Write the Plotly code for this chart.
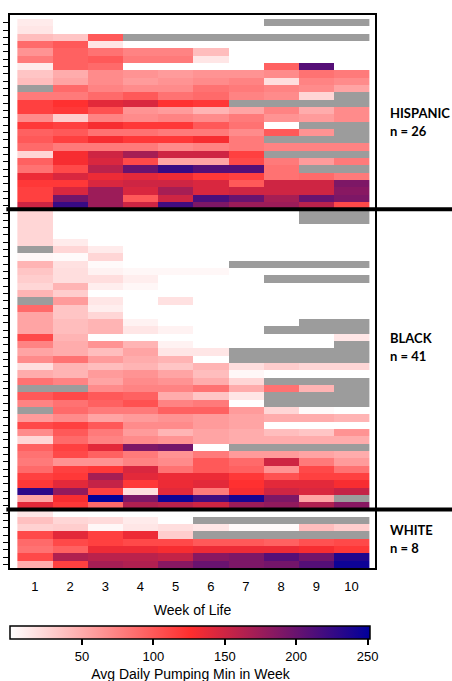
import numpy as np
import plotly.graph_objects as go

N = None
weeks = list(range(1, 11))

hispanic = [
    [12, 0, 0, 0, 0, 0, 0, N, N, N],
    [15, 0, 0, 0, 0, 0, 0, 0, 0, 0],
    [40, 35, 100, N, N, N, N, N, N, N],
    [90, 100, 15, 0, 0, 0, 0, 0, 0, 0],
    [65, 95, 85, 75, 75, 40, 0, 0, 0, 0],
    [80, 95, 100, 80, 80, 15, 0, 0, 0, 0],
    [12, 95, 90, 0, 0, 0, 0, 95, 210, 0],
    [35, 50, 70, 65, 60, 65, 65, 70, 85, 80],
    [40, 55, 70, 60, 65, 70, 75, 20, 75, 70],
    [N, 90, 75, 70, 70, 85, 80, 75, 70, 55],
    [80, 80, 90, 100, 85, 90, 75, 70, 25, N],
    [115, 125, 140, 145, 125, 120, N, N, N, N],
    [115, 120, 105, 65, 60, 45, 55, 75, 50, 70],
    [70, 30, 75, 70, 75, 70, 80, 65, 60, 70],
    [120, 115, 130, 120, 120, 100, 85, 0, N, N],
    [95, 100, 85, 85, 80, 80, 70, 100, 65, N],
    [100, 115, 130, 120, 120, 130, 80, N, N, N],
    [90, 80, 80, 80, 70, 75, 80, 75, 75, 75],
    [25, 130, 150, 170, 150, 150, 115, N, N, N],
    [95, 130, 145, 110, 55, 55, 110, 80, 60, 80],
    [85, 110, 160, 200, 225, 210, 210, 85, N, N],
    [135, 145, 135, 140, 135, 120, 115, 85, 90, 80],
    [120, 120, 145, 150, 150, 145, 100, 150, 150, 190],
    [115, 145, 175, 145, 170, 145, 150, 150, 150, 185],
    [115, 195, 175, 100, 150, 215, 200, 170, 200, 190],
    [150, 225, 175, 150, 220, 190, 175, 175, 160, 110],
]

black = [
    [25, 0, 0, 0, 0, 0, 0, 0, N, N],
    [25, 0, 0, 0, 0, 0, 0, 0, N, N],
    [25, 0, 0, 0, 0, 0, 0, 0, 0, 0],
    [25, 0, 0, 0, 0, 0, 0, 0, 0, 0],
    [25, 12, 0, 0, 0, 0, 0, 0, 0, 0],
    [N, 25, 12, 0, 0, 0, 0, 0, 0, 0],
    [5, 3, 25, 0, 0, 0, 0, 0, 0, 0],
    [45, 18, 3, 0, 0, 0, N, N, N, N],
    [35, 20, 8, 5, 5, 5, 0, 0, 0, 0],
    [30, 20, 20, 10, 0, 0, 0, N, N, N],
    [25, 45, 10, 5, 0, 0, 0, 0, 0, 0],
    [45, 30, 0, 0, 0, 0, 0, 0, 0, 0],
    [N, 60, 15, 0, 18, 0, 0, 0, 0, 0],
    [90, 35, 10, 0, 0, 0, 0, 0, 0, 0],
    [55, 35, 25, 0, 0, 0, 0, 0, 0, 0],
    [55, 40, 45, 8, 0, 0, 0, 0, N, N],
    [55, 40, 45, 15, 8, 0, 0, N, N, N],
    [110, 45, 0, 0, 0, 0, 0, 0, 0, 15],
    [75, 50, 65, 45, 8, 0, 0, 0, 0, N],
    [55, 50, 40, 55, 15, 15, N, N, N, N],
    [70, 85, 60, 50, 45, 0, N, N, N, N],
    [20, 45, 40, 45, 35, 45, 20, 30, 25, 25],
    [50, 45, 60, 65, 55, 40, 5, 0, 0, 0],
    [85, 75, 55, 70, 65, 50, 25, N, N, N],
    [N, N, 70, 75, 75, 85, 50, 85, 45, N],
    [100, 110, 100, 95, 50, 35, 15, N, N, N],
    [75, 85, 95, 105, 75, 80, 0, N, N, N],
    [N, 90, 80, 80, 95, 95, 60, 25, 3, 0],
    [60, 70, 55, 60, 65, 60, 55, 50, 50, 45],
    [110, 115, 100, 70, 70, 60, 55, 0, 0, 0],
    [70, 100, 80, 60, 45, 55, 50, 40, 35, 65],
    [25, 90, 75, 70, 65, 55, 50, 50, 50, 50],
    [95, 115, 140, 190, 195, 0, N, N, N, N],
    [85, 110, 95, 80, 65, 80, 60, 60, 55, 50],
    [80, 65, 65, 75, 70, 100, 90, 150, 80, 60],
    [90, 115, 120, 145, 85, 100, 95, 65, 110, 85],
    [115, 120, 170, 140, 135, 135, 120, 105, 115, 115],
    [120, 140, 155, 120, 135, 140, 125, 140, 140, 130],
    [230, 180, 115, 20, 140, 80, 130, 150, 145, 155],
    [55, 130, 250, 190, 245, 220, 240, 190, 55, N],
    [140, 120, 90, 165, 160, 150, 175, 180, 165, 185],
]

white = [
    [15, 0, 0, 0, 0, 0, 0, 0, 0, 0],
    [38, 25, 22, 12, 0, N, N, N, N, N],
    [28, 30, 5, 15, 20, 15, 3, 3, 40, 30],
    [110, 140, 115, 135, 30, N, N, N, N, N],
    [90, 110, 115, 110, 110, 100, 100, 95, 105, 110],
    [85, 95, 135, 135, 130, 135, 135, 135, 130, 120],
    [110, 165, 160, 160, 155, 185, 190, 210, 195, 235],
    [50, 115, 170, 165, 185, 200, 190, 195, 210, 245],
]

groups = ["HISPANIC", "BLACK", "WHITE"]
group_n = [26, 41, 8]
colorbar_ticks = [50, 100, 150, 200, 250]

rows = hispanic + black + white
z = np.array([[np.nan if v is None else v for v in r] for r in rows], dtype=float)
row_idx = list(range(len(rows)))
zgray = np.where(np.isnan(z), 1.0, np.nan)

fig = go.Figure()
fig.add_trace(go.Heatmap(
    z=zgray, x=weeks, y=row_idx,
    colorscale=[[0, "#9c9c9c"], [1, "#9c9c9c"]],
    showscale=False, hoverinfo="skip",
))
fig.add_trace(go.Heatmap(
    z=z, x=weeks, y=row_idx, zmin=0, zmax=252,
    colorscale=[[0, "#ffffff"], [0.5, "#ff2e2e"], [1, "#00009c"]],
    colorbar=dict(
        orientation="h", x=0.4945, xanchor="center", y=-0.1057, yanchor="top",
        lenmode="pixels", len=360, thickness=13, xpad=0, ypad=0,
        outlinecolor="black", outlinewidth=1.5,
        ticks="outside", ticklen=6, tickwidth=1.5, tickcolor="black",
        tickvals=colorbar_ticks, tickfont=dict(size=13, color="black", family="Liberation Sans"),
        title=dict(text="Avg Daily Pumping Min in Week", side="bottom",
                   font=dict(size=14, color="black", family="Liberation Sans")),
    ),
))

# group separators
bounds = np.cumsum(group_n)[:-1]
for b in bounds:
    fig.add_shape(type="line", xref="paper", yref="y", x0=-0.01, x1=1.25,
                  y0=b - 0.5, y1=b - 0.5, line=dict(color="black", width=4))

# group labels
label_y_top = [113, 338, 530]
H_plot = 553.5
for g, n, ypx in zip(groups, group_n, label_y_top):
    fig.add_annotation(xref="paper", yref="paper", x=1.0356, xanchor="left",
                       y=(568.5 - ypx) / H_plot, yanchor="middle", showarrow=False,
                       text=f"<b>{g}</b>", font=dict(family="Lato", size=13, color="black"))
    fig.add_annotation(xref="paper", yref="paper", x=1.0356, xanchor="left",
                       y=(568.5 - ypx - 18) / H_plot, yanchor="middle", showarrow=False,
                       text=f"<b>n = {n}</b>", font=dict(family="Lato", size=13, color="black"))

fig.update_xaxes(
    range=[0.29, 10.67], tickvals=weeks, ticktext=[str(w) for w in weeks],
    ticks="outside", ticklen=6, tickcolor="rgba(0,0,0,0)",
    showline=True, mirror=True, linecolor="black", linewidth=1.5,
    showgrid=False, zeroline=False,
    tickfont=dict(size=13, color="black", family="Liberation Sans"),
    title=dict(text="Week of Life", standoff=12,
               font=dict(size=14, color="black", family="Liberation Sans")),
)
fig.update_yaxes(
    range=[74.5, -1.05], tickvals=row_idx, showticklabels=False,
    ticks="outside", ticklen=5, tickwidth=1, tickcolor="black",
    showline=True, mirror=True, linecolor="black", linewidth=1.5,
    showgrid=False, zeroline=False,
)
fig.update_layout(
    width=452, height=681,
    margin=dict(l=10, r=77, t=15, b=112.5, autoexpand=False),
    plot_bgcolor="white", paper_bgcolor="white",
    showlegend=False,
    font=dict(family="Liberation Sans", color="black"),
)
fig.write_html("out.html")
